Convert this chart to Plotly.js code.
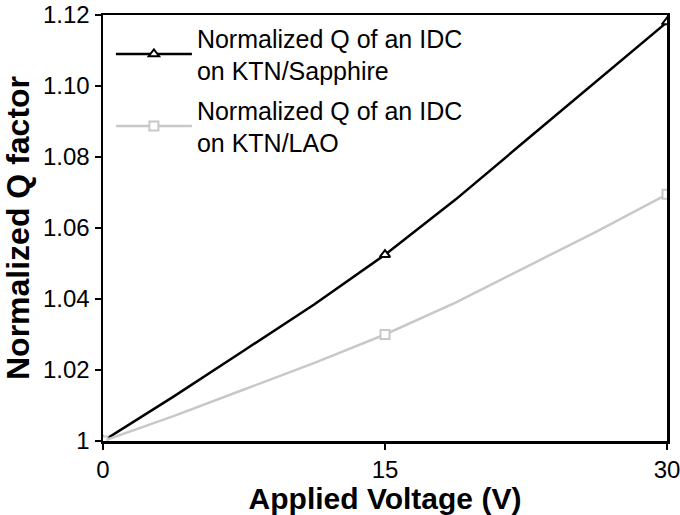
<!DOCTYPE html>
<html>
<head>
<meta charset="utf-8">
<script src="https://cdn.plot.ly/plotly-3.0.1.min.js"></script>
<style>html,body{margin:0;padding:0;background:#fff}#chart{width:680px;height:515px}</style>
</head>
<body>
<div id="chart"></div>
<script>
var voltage = [0, 3.75, 7.5, 11.25, 15, 18.75, 22.5, 26.25, 30];
var qSapphire = [1.000, 1.0125, 1.0255, 1.0385, 1.0525, 1.068, 1.0847, 1.1013, 1.118];
var qLAO = [1.000, 1.007, 1.0145, 1.022, 1.030, 1.039, 1.049, 1.059, 1.0695];
var markerIdx = [0, 4, 8];
var seriesNames = ["Normalized Q of an IDC<br>on KTN/Sapphire", "Normalized Q of an IDC<br>on KTN/LAO"];
var xTicks = [0, 15, 30];
var yTicks = [1, 1.02, 1.04, 1.06, 1.08, 1.10, 1.12];
var yTickText = ["1", "1.02", "1.04", "1.06", "1.08", "1.10", "1.12"];

var font = "Liberation Sans, Arial, sans-serif";

var traces = [
  {
    x: voltage, y: qSapphire, name: seriesNames[0], mode: "lines+markers", legendgroup: "a",
    line: {color: "#000000", width: 2.5},
    marker: {symbol: "triangle-up", size: 9, color: "#ffffff", line: {color: "#000000", width: 2}},
    selectedpoints: markerIdx,
    selected: {marker: {opacity: 1}},
    unselected: {marker: {opacity: 0}}
  },
  {
    x: voltage, y: qLAO, name: seriesNames[1], mode: "lines+markers", legendgroup: "b",
    line: {color: "#c8c8c8", width: 2.5},
    marker: {symbol: "square", size: 9, color: "#ffffff", line: {color: "#c8c8c8", width: 2}},
    selectedpoints: markerIdx,
    selected: {marker: {opacity: 1}},
    unselected: {marker: {opacity: 0}}
  }
];

var layout = {
  width: 680, height: 515,
  margin: {l: 103, r: 13, t: 15, b: 74},
  paper_bgcolor: "#ffffff", plot_bgcolor: "#ffffff",
  font: {family: font, color: "#000000", size: 24},
  showlegend: true,
  legend: {
    x: 0.014, y: 1.0, xanchor: "left", yanchor: "top",
    bgcolor: "rgba(0,0,0,0)", borderwidth: 0,
    font: {family: font, size: 25, color: "#000000"},
    itemwidth: 76, tracegroupgap: 4
  },
  xaxis: {
    range: [0, 30], tickvals: xTicks, ticks: "outside", ticklen: 6, tickwidth: 2.5,
    tickcolor: "#000", showline: true, linewidth: 2.5, linecolor: "#000", mirror: true,
    showgrid: false, zeroline: false, tickfont: {size: 24, family: font},
    ticklabeloverflow: "allow",
    title: {text: "<b>Applied Voltage (V)</b>", font: {size: 30, family: font}, standoff: 3}
  },
  yaxis: {
    range: [1, 1.12], tickvals: yTicks, ticktext: yTickText, ticks: "outside", ticklen: 6, tickwidth: 2.5,
    tickcolor: "#000", showline: true, linewidth: 2.5, linecolor: "#000", mirror: true,
    showgrid: false, zeroline: false, tickfont: {size: 24, family: font},
    title: {text: "<b>Normalized Q factor</b>", font: {size: 32, family: font}, standoff: 7}
  }
};

Plotly.newPlot("chart", traces, layout, {staticPlot: true, displayModeBar: false});
</script>
</body>
</html>
